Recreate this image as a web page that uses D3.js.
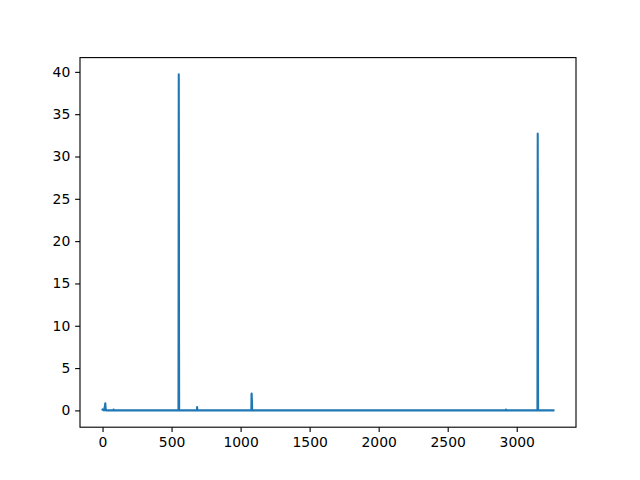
<!DOCTYPE html>
<html><head><meta charset="utf-8">
<script src="https://cdn.jsdelivr.net/npm/d3@7"></script>
<style>body{margin:0;background:#fff}svg{display:block}</style>
</head><body>
<script>
// Series sampled at key points (x index, value)
const xValues = [0, 10, 15, 18, 20, 22, 25, 60, 78, 80, 82, 548, 550, 551, 552, 553, 554, 555, 680, 683, 685, 687, 1075, 1078, 1079, 1080, 1081, 1082, 1084, 2920, 2922, 2924, 3148, 3150, 3151, 3152, 3153, 3154, 3155, 3266];
const yValues = [0.1, 0.0, 0.3, 0.6, 0.85, 0.3, 0.0, 0.0, 0.0, 0.1, 0.0, 0.0, 0.0, 20.0, 39.7, 30.0, 8.0, 0.0, 0.0, 0.0, 0.4, 0.0, 0.0, 0.0, 1.9, 2.0, 1.5, 1.2, 0.0, 0.0, 0.1, 0.0, 0.0, 0.0, 15.0, 32.7, 25.0, 5.0, 0.0, 0.0];
const xTicks = [0, 500, 1000, 1500, 2000, 2500, 3000];
const yTicks = [0, 5, 10, 15, 20, 25, 30, 35, 40];

const W = 640, H = 480;
const L = 80, R = 576, T = 57.6, B = 427.2;
const data = xValues.map((x, i) => ({x, y: yValues[i]}));

const xmin = d3.min(xValues), xmax = d3.max(xValues);
const ymin = d3.min(yValues), ymax = d3.max(yValues);
const xp = (xmax - xmin) * 0.05, yp = (ymax - ymin) * 0.05;
const x = d3.scaleLinear().domain([xmin - xp, xmax + xp]).range([L, R]);
const y = d3.scaleLinear().domain([ymin - yp, ymax + yp]).range([B, T]);

const svg = d3.select("body").append("svg").attr("width", W).attr("height", H);
svg.append("rect").attr("width", W).attr("height", H).attr("fill", "#fff");

const line = d3.line().x(d => x(d.x)).y(d => y(d.y));
svg.append("defs").append("clipPath").attr("id", "c")
  .append("rect").attr("x", L).attr("y", T).attr("width", R - L).attr("height", B - T);
svg.append("path").datum(data).attr("d", line)
  .attr("fill", "none").attr("stroke", "#1f77b4").attr("stroke-width", 2.08)
  .attr("stroke-linejoin", "round").attr("stroke-linecap", "square")
  .attr("clip-path", "url(#c)");

const font = "DejaVu Sans";
const xa = svg.append("g").attr("transform", `translate(0,${B})`)
  .call(d3.axisBottom(x).tickValues(xTicks).tickFormat(d3.format("d")).tickSizeInner(4.86).tickSizeOuter(0).tickPadding(4.86));
const ya = svg.append("g").attr("transform", `translate(${L},0)`)
  .call(d3.axisLeft(y).tickValues(yTicks).tickFormat(d3.format("d")).tickSizeInner(4.86).tickSizeOuter(0).tickPadding(4.86));
[xa, ya].forEach(a => {
  a.select(".domain").remove();
  a.selectAll("line").attr("stroke", "#000").attr("stroke-width", 1.11);
  a.selectAll("text").attr("font-family", font).attr("font-size", "13.9px").attr("fill", "#000");
});

svg.append("rect").attr("x", L).attr("y", T).attr("width", R - L).attr("height", B - T)
  .attr("fill", "none").attr("stroke", "#000").attr("stroke-width", 1.11);
</script>
</body></html>
